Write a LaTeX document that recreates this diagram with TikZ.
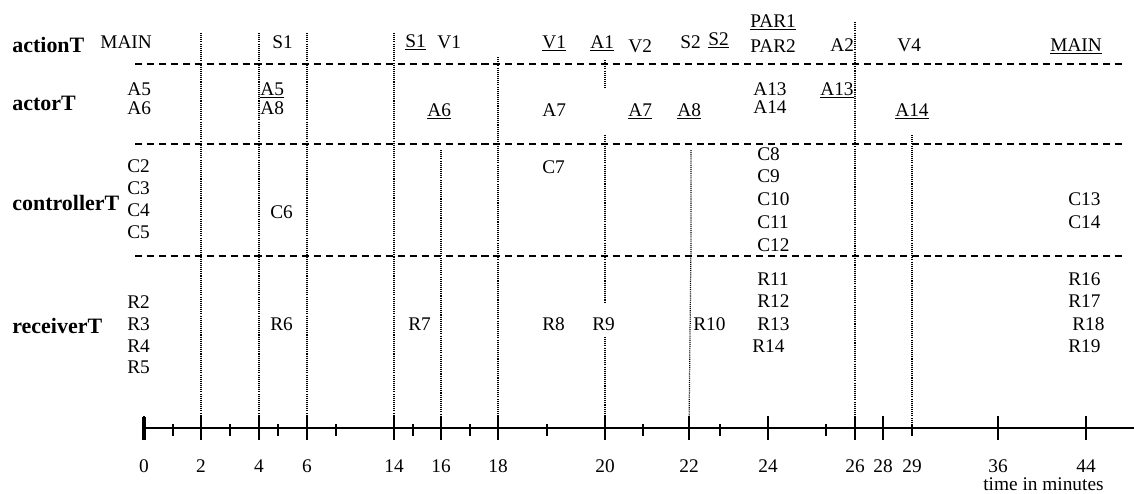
\documentclass[tikz,border=0pt]{standalone}
\usepackage{fontspec}
\setmainfont{Liberation Serif}
\usetikzlibrary{positioning}

\begin{document}
\begin{tikzpicture}[
  x=0.02cm,
  y=-0.02cm,
  lbl/.style={anchor=base west,inner sep=0pt,font=\fontsize{11}{12}\selectfont},
  rowlbl/.style={anchor=base west,inner sep=0pt,font=\fontsize{12.5}{14}\selectfont\bfseries},
  num/.style={anchor=base,inner sep=0pt,font=\fontsize{11}{12}\selectfont},
  sep/.style={line width=0.75pt,dash pattern=on 4pt off 2.8pt},
  vline/.style={line width=0.7pt,dash pattern=on 0.6pt off 0.6pt},
  axis/.style={line width=0.8pt},
  minortick/.style={line width=0.6pt}
]
  \useasboundingbox (0,0) rectangle (1134,494);

  % row names
  \node[rowlbl] (rAction) at (12,52) {actionT};
  \node[rowlbl] (rActor) at (12,110) {actorT};
  \node[rowlbl] (rController) at (12,210) {controllerT};
  \node[rowlbl] (rReceiver) at (12,333) {receiverT};

  % row separators
  \draw[sep] (135,64) -- (1125,64);
  \draw[sep] (135,144) -- (1125,144);
  \draw[sep] (135,256) -- (1125,256);

  % time axis
  \draw[axis] (144,428) -- (1134,428);
  \draw[line width=2.2pt] (144,417) -- (144,440);
  \foreach \x/\t in {144/0,201/2,259/4,307/6,394/14,441/16,498/18,605/20,
                     689/22,768/24,855/26,883/28,998/36,1086/44} {
    \coordinate (t\t) at (\x,428);
    \draw[axis] (\x,416) -- (\x,440);
    \node[num] (n\t) at (\x,472) {\t};
  }
  \coordinate (t29) at (912,428);
  \node[num] (n29) at (912,472) {29};
  \foreach \x in {173,230,278,336,413,470,547,643,720,826,912}
    \draw[minortick] (\x,424) -- (\x,436);
  \node[lbl] (unit) at (983,490) {time in minutes};

  % time marks
  \draw[vline] (201,33) -- (t2);
  \draw[vline] (259,33) -- (t4);
  \draw[vline] (307,33) -- (t6);
  \draw[vline] (394,33) -- (t14);
  \draw[vline] (441,150) -- (t16);
  \draw[vline] (498,57) -- (t18);
  \draw[vline] (605,60) -- (605,88);
  \draw[vline] (605,135) -- (605,302);
  \draw[vline] (605,337) -- (t20);
  \draw[vline] (691,150) -- (691,244) -- (t22);
  \draw[vline] (855,22) -- (t26);
  \draw[vline] (912,135) -- (t29);

  % actionT
  \node[lbl] (aMain) at (100,48) {MAIN};
  \node[lbl] (aS1) at (272,48) {S1};
  \node[lbl] (aS1u) at (405,47) {\underline{S1}};
  \node[lbl] (aV1) at (437,48) {V1};
  \node[lbl] (aV1u) at (542,48) {\underline{V1}};
  \node[lbl] (aA1u) at (590,48) {\underline{A1}};
  \node[lbl] (aV2) at (628,52) {V2};
  \node[lbl] (aS2) at (680,48) {S2};
  \node[lbl] (aS2u) at (708,45) {\underline{S2}};
  \node[lbl] (aPar1) at (750,27) {\underline{PAR1}};
  \node[lbl] (aPar2) at (750,52) {PAR2};
  \node[lbl] (aA2) at (830,51) {A2};
  \node[lbl] (aV4) at (897,51) {V4};
  \node[lbl] (aMainu) at (1050,51) {\underline{MAIN}};

  % actorT
  \node[lbl] (oA5) at (127,95) {A5};
  \node[lbl] (oA6) at (127,114) {A6};
  \node[lbl] (oA5u) at (260,95) {\underline{A5}};
  \node[lbl] (oA8) at (260,114) {A8};
  \node[lbl] (oA6u) at (427,116) {\underline{A6}};
  \node[lbl] (oA7) at (542,116) {A7};
  \node[lbl] (oA7u) at (628,116) {\underline{A7}};
  \node[lbl] (oA8u) at (677,116) {\underline{A8}};
  \node[lbl] (oA13) at (753,95) {A13};
  \node[lbl] (oA14) at (753,113) {A14};
  \node[lbl] (oA13u) at (820,95) {\underline{A13}};
  \node[lbl] (oA14u) at (895,116) {\underline{A14}};

  % controllerT
  \node[lbl] (cC2) at (127,172) {C2};
  \node[lbl] (cC3) at (127,194) {C3};
  \node[lbl] (cC4) at (127,216) {C4};
  \node[lbl] (cC5) at (127,238) {C5};
  \node[lbl] (cC6) at (270,218) {C6};
  \node[lbl] (cC7) at (542,173) {C7};
  \node[lbl] (cC8) at (757,160) {C8};
  \node[lbl] (cC9) at (757,182) {C9};
  \node[lbl] (cC10) at (757,205) {C10};
  \node[lbl] (cC11) at (757,228) {C11};
  \node[lbl] (cC12) at (757,251) {C12};
  \node[lbl] (cC13) at (1068,205) {C13};
  \node[lbl] (cC14) at (1068,228) {C14};

  % receiverT
  \node[lbl] (vR2) at (127,308) {R2};
  \node[lbl] (vR3) at (127,330) {R3};
  \node[lbl] (vR4) at (127,352) {R4};
  \node[lbl] (vR5) at (127,373) {R5};
  \node[lbl] (vR6) at (270,330) {R6};
  \node[lbl] (vR7) at (408,330) {R7};
  \node[lbl] (vR8) at (542,330) {R8};
  \node[lbl] (vR9) at (592,330) {R9};
  \node[lbl] (vR10) at (693,330) {R10};
  \node[lbl] (vR11) at (757,285) {R11};
  \node[lbl] (vR12) at (757,307) {R12};
  \node[lbl] (vR13) at (757,330) {R13};
  \node[lbl] (vR14) at (752,352) {R14};
  \node[lbl] (vR16) at (1068,285) {R16};
  \node[lbl] (vR17) at (1068,307) {R17};
  \node[lbl] (vR18) at (1072,330) {R18};
  \node[lbl] (vR19) at (1068,352) {R19};
\end{tikzpicture}
\end{document}
